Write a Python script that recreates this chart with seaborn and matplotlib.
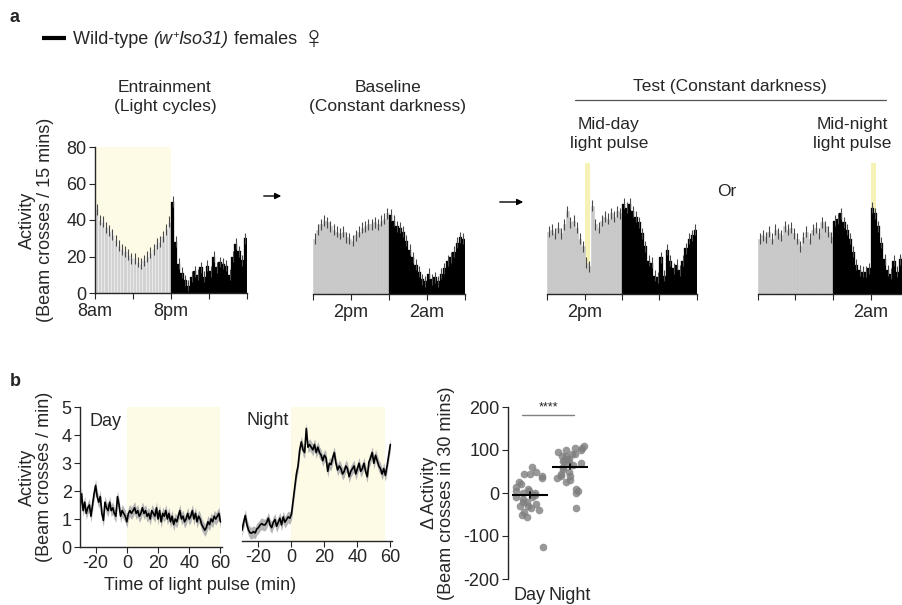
import numpy as np
import pandas as pd
import seaborn as sns
import matplotlib.pyplot as plt
from matplotlib.lines import Line2D
from matplotlib.patches import FancyArrowPatch

sns.set_style("ticks")
plt.rcParams['font.family'] = ['Liberation Sans', 'DejaVu Sans']
plt.rcParams['font.size'] = 12.5
plt.rcParams['axes.unicode_minus'] = False
plt.rcParams['axes.linewidth'] = 1.0
plt.rcParams['xtick.major.size'] = 4
plt.rcParams['ytick.major.size'] = 4

# ---- panel a: 30-min activity bins (12 h light/subjective day, 12 h dark/night) ----
ent_day = [46, 40, 39, 36, 34, 32, 29, 26, 24, 23, 21, 19, 19, 17, 16, 18, 20, 22, 24, 27, 28, 31, 35, 39]
ent_night = [50, 28, 16, 11, 7, 4, 9, 12, 10, 14, 9, 15, 12, 20, 14, 17, 16, 15, 10, 20, 27, 23, 18, 30]
base_day = [30, 35, 38, 40, 39, 37, 35, 34, 33, 34, 31, 30, 29, 32, 34, 36, 37, 38, 38, 39, 38, 40, 41, 44]
base_night = [43, 40, 37, 36, 34, 29, 24, 20, 16, 12, 8, 7, 11, 8, 9, 7, 11, 14, 18, 20, 23, 28, 31, 30]
midday_day = [34, 35, 33, 36, 33, 38, 45, 39, 40, 36, 30, 26, 17, 15, 48, 38, 36, 40, 42, 41, 44, 42, 45, 44]
midday_night = [49, 47, 49, 45, 42, 39, 33, 26, 18, 17, 10, 9, 20, 10, 24, 18, 14, 16, 13, 18, 25, 30, 32, 35]
midnight_day = [30, 32, 31, 34, 30, 35, 33, 32, 37, 35, 36, 33, 30, 26, 31, 34, 30, 35, 36, 33, 39, 37, 34, 31]
midnight_night = [40, 41, 44, 39, 35, 30, 23, 16, 13, 12, 12, 14, 47, 44, 37, 28, 19, 13, 11, 18, 12, 19, 20, 16]
bin_sem = 3

# ---- panel b: per-minute activity around the light pulse ----
minutes = list(range(-30, 61))
day_trace = [1.4, 1.9, 1.3, 1.6, 1.2, 1.4, 1.5, 1.1, 1.5, 1.9, 2.2, 1.8, 1.6, 1.8, 1.2,
             0.95, 1.6, 1.4, 1.3, 1.6, 1.3, 1.4, 1.2, 1.1, 1.8, 1.5, 1.1, 1.3, 1.2, 1.1,
             0.9, 1.2, 1.3, 1.2, 1.3, 1.4, 1.2, 1.3, 1.1, 1.2, 1.4, 1.2, 1.3, 1.1, 1.2,
             1.0, 1.3, 1.2, 1.1, 1.4, 1.0, 1.3, 0.9, 1.2, 1.1, 1.3, 1.0, 1.2, 0.9, 1.1,
             0.8, 1.0, 0.9, 1.1, 1.3, 1.0, 1.1, 0.9, 1.0, 1.2, 1.0, 1.1, 1.3, 1.0, 1.2,
             0.9, 1.1, 1.0, 0.8, 0.7, 0.6, 0.7, 0.9, 0.8, 1.0, 0.9, 1.1, 1.0, 1.1, 1.2, 0.9]
night_trace = [0.4, 0.7, 0.95, 0.6, 0.4, 0.3, 0.3, 0.35, 0.3, 0.45, 0.5, 0.6, 0.65, 0.6, 0.6,
               0.7, 0.85, 0.6, 0.5, 0.7, 0.8, 0.55, 0.7, 0.85, 0.6, 0.9, 0.7, 0.8, 0.9, 0.85,
               1.0, 1.5, 2.0, 2.5, 2.8, 3.4, 3.7, 3.4, 3.3, 4.2, 3.5, 3.6, 3.5, 3.4, 3.6,
               3.3, 3.5, 3.3, 3.2, 3.0, 3.2, 3.1, 2.6, 2.9, 2.85, 3.1, 3.3, 2.9, 2.65, 2.8,
               2.7, 2.5, 2.6, 2.8, 2.7, 2.4, 2.6, 2.7, 2.8, 2.5, 2.7, 2.9, 2.6, 2.7, 2.9,
               2.6, 2.4, 2.95, 3.1, 3.3, 2.9, 3.2, 3.0, 2.8, 2.7, 2.5, 2.7, 2.45, 2.8, 3.2, 3.6]
trace_sem = 0.22

day_delta = [60, 50, 45, 45, 40, 35, 25, 20, 15, 10, 5, 5, 0, 0, -5, -5, -10, -10, -15, -20,
             -20, -25, -30, -30, -35, -40, -45, -50, -55, -125]
night_delta = [110, 105, 105, 100, 100, 95, 90, 90, 85, 85, 80, 80, 75, 75, 70, 70, 65, 60,
               55, 50, 45, 40, 40, 35, 30, 25, 10, 5, 0, -35]

W, H = 903, 605
fig = plt.figure(figsize=(W / 100, H / 100), dpi=100)


def fax(l, t, r, b):
    return fig.add_axes([l / W, 1 - b / H, (r - l) / W, (b - t) / H])


PALE = '#fdfae6'
PULSE = '#f6f1b4'
GREY = '#c8c8c8'


def activity(ax, day, night, pulse=None, day_color=GREY, edge=None):
    hrs = np.arange(len(day) + len(night)) * 0.5
    vals = np.array(day + night, dtype=float)
    if pulse is not None:
        ax.axvspan(pulse[0], pulse[1], ymax=0.89, color=PULSE, lw=0, zorder=0)
    ax.bar(hrs[:len(day)], day, width=0.5, align='edge', color=day_color,
           edgecolor=edge or day_color, linewidth=0.4, zorder=2)
    ax.bar(hrs[len(day):], night, width=0.5, align='edge', color='black',
           edgecolor='black', linewidth=0.2, zorder=2)
    ax.errorbar(hrs + 0.25, vals, yerr=bin_sem, fmt='none', ecolor='#4a4a4a',
                elinewidth=0.8, zorder=3)
    ax.set_xlim(0, 24)
    ax.set_ylim(0, 80)
    ax.set_xticks([0, 6, 12, 18, 24])
    sns.despine(ax=ax, left=True)
    ax.set_yticks([])
    ax.tick_params(axis='x', labelsize=13, pad=3)


ax1 = fax(95, 147, 247, 293)
ax1.axvspan(0, 12, color=PALE, lw=0, zorder=0)
activity(ax1, ent_day, ent_night, day_color='#d2d2d2', edge='#f2f2f2')
sns.despine(ax=ax1)
ax1.set_yticks([0, 20, 40, 60, 80])
ax1.tick_params(axis='y', labelsize=13, pad=2)
ax1.set_xticklabels(['8am', '', '8pm', '', ''])
ax1.set_ylabel('Activity\n(Beam crosses / 15 mins)', fontsize=13, labelpad=9, linespacing=1.05)

ax2 = fax(313, 147, 465, 294)
activity(ax2, base_day, base_night)
ax2.set_xticklabels(['', '2pm', '', '2am', ''])

ax3 = fax(547, 147, 697, 294)
activity(ax3, midday_day, midday_night, pulse=(6.0, 6.9))
ax3.set_xticklabels(['', '2pm', '', '', ''])

ax4 = fax(758, 147, 908, 294)
activity(ax4, midnight_day, midnight_night, pulse=(18.0, 18.9))
ax4.set_xticklabels(['', '', '', '2am', ''])


# titles / annotations for panel a
def ftext(x, y, s, **kw):
    kw.setdefault('ha', 'center')
    kw.setdefault('va', 'center')
    kw.setdefault('fontsize', 12.5)
    return fig.text(x / W, 1 - y / H, s, **kw)


ftext(15, 18, 'a', fontweight='bold', fontsize=13)
ftext(15, 381, 'b', fontweight='bold', fontsize=13)
ftext(165, 97, 'Entrainment\n(Light cycles)', linespacing=1.3)
ftext(388, 97, 'Baseline\n(Constant darkness)', linespacing=1.3)
ftext(730, 86, 'Test (Constant darkness)')
fig.add_artist(Line2D([575 / W, 886 / W], [1 - 100 / H] * 2, color='#555555', lw=0.9))
ftext(609, 134, 'Mid-day\nlight pulse', linespacing=1.3)
ftext(852, 134, 'Mid-night\nlight pulse', linespacing=1.3)
ftext(727, 192, 'Or')
for x0, x1, y in [(261, 284, 196), (497, 526, 202)]:
    fig.add_artist(FancyArrowPatch(
        (x0 / W, 1 - y / H), (x1 / W, 1 - y / H), transform=fig.transFigure,
        arrowstyle='-|>', mutation_scale=9, lw=1.0, color='black'))

# legend
fig.add_artist(Line2D([42 / W, 66 / W], [1 - 38 / H] * 2, color='black', lw=3, solid_capstyle='butt'))
rend = fig.canvas.get_renderer()
xpos = 73
base = 1 - 44 / H
for s, kw, dy in [('Wild-type ', {}, 0), ('(w', {'style': 'italic'}, 0),
                  ('+', {'style': 'italic', 'fontsize': 8}, 6), ('Iso31)', {'style': 'italic'}, 0),
                  (' females ', {}, 0), ('\u2640', {'fontsize': 23}, -4)]:
    kw.setdefault('fontsize', 13)
    t = fig.text(xpos / W, base + dy / H, s, ha='left', va='baseline', **kw)
    xpos = t.get_window_extent(rend).x1


# ---- panel b traces ----
def trace(ax, vals, span):
    ax.axvspan(span[0], span[1], color=PALE, lw=0, zorder=0)
    v = np.array(vals)
    ax.fill_between(minutes, v - trace_sem, v + trace_sem, color='#b5b5b5', lw=0, zorder=1)
    sns.lineplot(x=minutes, y=vals, color='black', lw=1.2, ax=ax, zorder=2)
    ax.set_xlim(-30, 61)
    ax.set_ylim(0, 5)
    ax.set_xticks([-20, 0, 20, 40, 60])
    ax.tick_params(labelsize=13, pad=2)


axd = fax(80, 407, 222, 547)
trace(axd, day_trace, (0, 60))
sns.despine(ax=axd)
axd.set_yticks([0, 1, 2, 3, 4, 5])
axd.set_ylabel('Activity\n(Beam crosses / min)', fontsize=13, labelpad=6, linespacing=1.05)
axd.text(0.07, 0.9, 'Day', transform=axd.transAxes, fontsize=13, va='center')

axn = fax(242, 407, 392, 541)
trace(axn, night_trace, (0, 56.5))
sns.despine(ax=axn, left=True)
axn.set_yticks([])
axn.text(0.03, 0.9, 'Night', transform=axn.transAxes, fontsize=13, va='center')
ftext(200, 585, 'Time of light pulse (min)', fontsize=13)

# ---- panel b scatter ----
df = pd.DataFrame({'cond': ['Day'] * len(day_delta) + ['Night'] * len(night_delta),
                   'delta': day_delta + night_delta})
axs = fax(508, 407, 595, 579)
np.random.seed(3)
sns.stripplot(data=df, x='cond', y='delta', order=['Day', 'Night'], color='#7e7e7e',
              size=5.5, jitter=0.38, alpha=0.8, linewidth=0, ax=axs, zorder=1)
sns.pointplot(data=df, x='cond', y='delta', order=['Day', 'Night'], errorbar='se',
              color='black', linestyle='none', marker='_', markersize=26,
              markeredgewidth=1.5, err_kws={'linewidth': 1.2}, ax=axs, zorder=3)
axs.set_xlim(-0.55, 1.625)
axs.set_ylim(-200, 200)
axs.set_yticks([-200, -100, 0, 100, 200])
sns.despine(ax=axs, bottom=True)
axs.tick_params(axis='x', length=0, labelsize=13, pad=6)
axs.tick_params(axis='y', labelsize=13, pad=2)
axs.set_xlabel('')
axs.set_ylabel('\u0394 Activity\n(Beam crosses in 30 mins)', fontsize=13, labelpad=6, linespacing=1.05)
axs.plot([-0.2, 1.1], [181, 181], color='#808080', lw=1, clip_on=False)
axs.text(0.45, 184, '****', ha='center', va='bottom', fontsize=9)

fig.savefig('out.png', dpi=100)
